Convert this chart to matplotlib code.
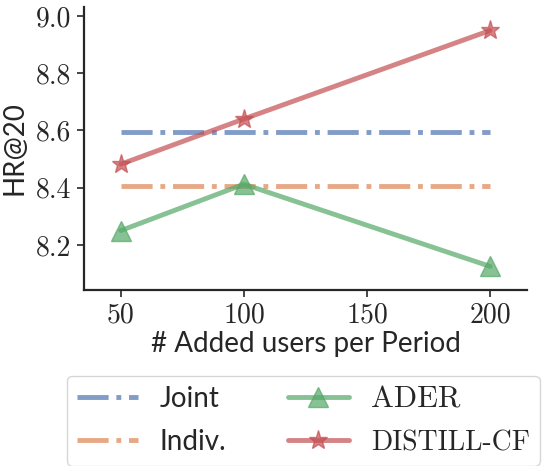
import numpy as np
import matplotlib
matplotlib.use('Agg')
import matplotlib.pyplot as plt
import seaborn as sns

# Data
users = [50, 100, 200]
joint = [8.596, 8.596, 8.596]
indiv = [8.406, 8.406, 8.406]
ader = [8.250, 8.412, 8.125]
distill = [8.482, 8.640, 8.949]
xticks = [50, 100, 150, 200]
yticks = [8.2, 8.4, 8.6, 8.8, 9.0]

sns.set_theme(style='ticks')
plt.rcParams['font.family'] = ['Lato', 'DejaVu Sans']
pal = sns.color_palette('deep')

fig = plt.figure(figsize=(5.45, 4.66), dpi=100)
ax = fig.add_axes([0.154, 0.378, 0.813, 0.607])

lw = 3.5
ax.plot(users, joint, color=pal[0], lw=lw, alpha=0.7, ls='-.', label='Joint')
ax.plot(users, indiv, color=pal[1], lw=lw, alpha=0.7, ls='-.', label='Indiv.')
ax.plot(users, ader, color=pal[2], lw=lw, alpha=0.7, marker='^', ms=15,
        label='ADER')
ax.plot(users, distill, color=pal[3], lw=lw, alpha=0.7, marker='*', ms=14,
        label='DISTILL-CF')

ax.set_xlim(35, 215)
ax.set_ylim(8.043, 9.031)
ax.set_xticks(xticks)
ax.set_yticks(yticks)
ax.set_xticklabels([str(v) for v in xticks], fontfamily='cmr10', fontsize=20)
ax.set_yticklabels(['%.1f' % v for v in yticks], fontfamily='cmr10', fontsize=20)
ax.tick_params(axis='both', length=5, width=1.2, colors='#262626', pad=4)
for s in ['left', 'bottom']:
    ax.spines[s].set_linewidth(1.6)
    ax.spines[s].set_color('#262626')
sns.despine(ax=ax)

ax.set_xlabel('# Added users per Period', fontsize=20, labelpad=2)
ax.set_ylabel('HR@20', fontsize=20, labelpad=6)

leg = ax.legend(loc='upper center', bbox_to_anchor=(0.495, -0.255), ncol=2,
                fontsize=20, handlelength=2.2, columnspacing=2.2,
                frameon=True, borderpad=0.35, labelspacing=0.6)
for t in leg.get_texts()[2:]:
    t.set_fontfamily('cmr10')
leg.get_texts()[2].set_fontsize(22)

fig.savefig('out.png', dpi=100)
